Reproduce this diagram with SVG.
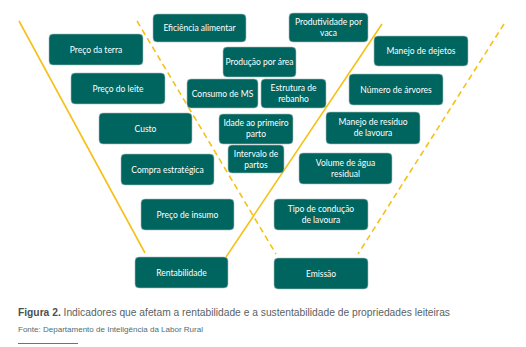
<svg xmlns="http://www.w3.org/2000/svg" width="526" height="347" viewBox="0 0 526 347">
<style>
.box{fill:#00655f;stroke:#a9bcbb;stroke-width:0.6}
.t{fill:#ffffff;font-family:Lato,"Open Sans",sans-serif;font-size:8.5px;text-anchor:middle}
.ln{stroke:#f5c118;stroke-width:1.6;fill:none}
.dash{stroke-dasharray:6 4}
</style>
<rect width="526" height="347" fill="#ffffff"/>
<g id="connectors">
<line class="ln" x1="19" y1="21" x2="145" y2="253"/>
<line class="ln dash" x1="137" y1="21" x2="276" y2="254"/>
<line class="ln" x1="382" y1="24" x2="226" y2="257"/>
<line class="ln dash" x1="504" y1="24" x2="358" y2="254"/>
</g>
<g id="n-eficiencia"><rect class="box" x="153" y="14" width="93" height="28" rx="4"/><text class="t" x="199.5" y="31">Eficiência alimentar</text></g>
<g id="n-produtividade"><rect class="box" x="289" y="13" width="79" height="29" rx="4"/><text class="t" x="328.5" y="25">Produtividade por</text><text class="t" x="328.5" y="36">vaca</text></g>
<g id="n-precoterra"><rect class="box" x="49" y="34" width="94" height="31" rx="4"/><text class="t" x="96" y="52.5">Preço da terra</text></g>
<g id="n-producao"><rect class="box" x="223" y="47" width="73" height="30" rx="4"/><text class="t" x="259.5" y="64.5">Produção por área</text></g>
<g id="n-dejetos"><rect class="box" x="374" y="36" width="94" height="30" rx="4"/><text class="t" x="421" y="54">Manejo de dejetos</text></g>
<g id="n-precoleite"><rect class="box" x="71" y="73" width="94" height="31" rx="4"/><text class="t" x="118" y="91.5">Preço do leite</text></g>
<g id="n-consumo"><rect class="box" x="187" y="79" width="71" height="29" rx="4"/><text class="t" x="222.5" y="96.5">Consumo de MS</text></g>
<g id="n-estrutura"><rect class="box" x="261" y="79" width="65" height="29" rx="4"/><text class="t" x="293.5" y="91">Estrutura de</text><text class="t" x="293.5" y="102">rebanho</text></g>
<g id="n-arvores"><rect class="box" x="349" y="74" width="94" height="31" rx="4"/><text class="t" x="396" y="92.5">Número de árvores</text></g>
<g id="n-custo"><rect class="box" x="99" y="113" width="93" height="31" rx="4"/><text class="t" x="145.5" y="131.5">Custo</text></g>
<g id="n-idade"><rect class="box" x="219" y="114" width="74" height="30" rx="4"/><text class="t" x="256" y="126">Idade ao primeiro</text><text class="t" x="256" y="137">parto</text></g>
<g id="n-residuo"><rect class="box" x="326" y="112" width="94" height="32" rx="4"/><text class="t" x="373" y="125">Manejo de resíduo</text><text class="t" x="373" y="136">de lavoura</text></g>
<g id="n-intervalo"><rect class="box" x="228" y="145" width="56" height="28" rx="4"/><text class="t" x="256" y="157">Intervalo de</text><text class="t" x="256" y="168">partos</text></g>
<g id="n-compra"><rect class="box" x="121" y="154" width="93" height="31" rx="4"/><text class="t" x="167.5" y="172.5">Compra estratégica</text></g>
<g id="n-agua"><rect class="box" x="299" y="153" width="93" height="31" rx="4"/><text class="t" x="345.5" y="166">Volume de água</text><text class="t" x="345.5" y="177">residual</text></g>
<g id="n-insumo"><rect class="box" x="141" y="199" width="93" height="31" rx="4"/><text class="t" x="187.5" y="217.5">Preço de insumo</text></g>
<g id="n-tipo"><rect class="box" x="274" y="199" width="94" height="31" rx="4"/><text class="t" x="321" y="212">Tipo de condução</text><text class="t" x="321" y="223">de lavoura</text></g>
<g id="n-rentabilidade"><rect class="box" x="135" y="257" width="93" height="31" rx="4"/><text class="t" x="181.5" y="276">Rentabilidade</text></g>
<g id="n-emissao"><rect class="box" x="274" y="258" width="94" height="31" rx="4"/><text class="t" x="321" y="276.5">Emissão</text></g>
<text x="18" y="316" font-family="'Liberation Sans Narrow','Liberation Sans',sans-serif" font-size="10.5" fill="#5a5f63" textLength="432" lengthAdjust="spacingAndGlyphs"><tspan font-weight="bold" fill="#4a4f53">Figura 2.</tspan> Indicadores que afetam a rentabilidade e a sustentabilidade de propriedades leiteiras</text>
<text x="18" y="332" font-family="'Liberation Sans',sans-serif" font-size="7" fill="#4e6e70" textLength="185" lengthAdjust="spacingAndGlyphs">Fonte: Departamento de Inteligência da Labor Rural</text>
<line x1="18" y1="343.5" x2="78" y2="343.5" stroke="#4a4f53" stroke-width="0.8"/>
</svg>
